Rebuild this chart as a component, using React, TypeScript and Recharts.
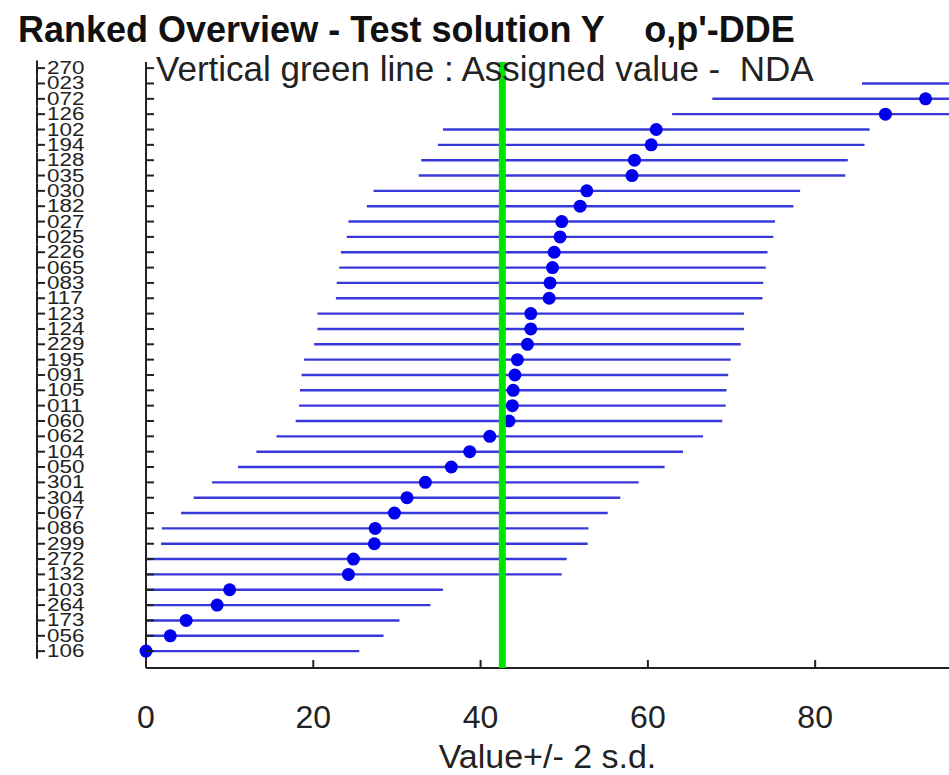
import React from 'react';
import { ScatterChart, Scatter, XAxis, YAxis, ErrorBar, ReferenceLine } from 'recharts';

// participant codes, top to bottom
const labs = [
  '270', '023', '072', '126', '102', '194', '128', '035', '030', '182',
  '027', '025', '226', '065', '083', '117', '123', '124', '229', '195',
  '091', '105', '011', '060', '062', '104', '050', '301', '304', '067',
  '086', '299', '272', '132', '103', '264', '173', '056', '106',
];

// reported values (270 and 023 are off the right edge)
const values = [
  130, 111.1, 93.2, 88.4, 61.0, 60.4, 58.4, 58.1, 52.7, 51.9,
  49.7, 49.5, 48.8, 48.6, 48.3, 48.2, 46.0, 46.0, 45.6, 44.4,
  44.1, 43.9, 43.8, 43.4, 41.1, 38.7, 36.5, 33.4, 31.2, 29.7,
  27.4, 27.3, 24.8, 24.2, 10.0, 8.5, 4.8, 2.9, 0.0,
];

const xTicks = [0, 20, 40, 60, 80];
const TWO_SD = 25.5;
const ASSIGNED = 42.6;
const X_MIN = 0;
const X_MAX = 96;

// error bars are cut at the left edge of the axes, like the original
const rows = labs.map((lab, i) => ({
  lab,
  idx: i + 1,
  value: values[i],
  err: [Math.min(TWO_SD, values[i] - X_MIN), TWO_SD],
}));
// dots that fall inside the axes (drawn unclipped so the one at 0 stays round)
const dots = rows.filter(r => r.value <= X_MAX);
const rowTicks = rows.map(r => r.idx);

const FONT = '"Liberation Sans", Arial, Helvetica, sans-serif';
const INK = '#222';

const LabTick = ({ x, y, payload }: any) => (
  <g>
    <line x1={x - 109} x2={x - 109} y1={y - 7.7} y2={y + 7.7} stroke={INK} strokeWidth={2} />
    <line x1={x - 109} x2={x - 101} y1={y} y2={y} stroke={INK} strokeWidth={2} />
    <line x1={x} x2={x + 8} y1={y} y2={y} stroke={INK} strokeWidth={2} />
    <text
      x={0}
      y={0}
      transform={`translate(${x - 99},${y + 6}) scale(1.12,0.88)`}
      fontSize={20}
      fill={INK}
      fontFamily={FONT}
    >
      {labs[payload.value - 1]}
    </text>
  </g>
);

const ValTick = ({ x, y, payload }: any) => (
  <g>
    <line x1={x} x2={x} y1={y} y2={y - 8} stroke={INK} strokeWidth={2} />
    <text x={x} y={y + 60} textAnchor="middle" fontSize={32} fill={INK} fontFamily={FONT}>
      {payload.value}
    </text>
  </g>
);

const Dot = (p: any) => <circle cx={p.cx} cy={p.cy} r={6.5} fill="#0000ee" />;
const NoDot = () => <g />;

export default function App() {
  return (
    <div style={{ position: 'absolute', left: 0, top: 0, width: 949, height: 775, background: '#fff', fontFamily: FONT }}>
      <ScatterChart width={949} height={775} margin={{ top: 62, right: 0, bottom: 0, left: 0 }}>
        <XAxis
          xAxisId="clip"
          type="number"
          dataKey="value"
          domain={[X_MIN, X_MAX]}
          allowDataOverflow
          ticks={xTicks}
          tickSize={0}
          tickMargin={0}
          tickLine={false}
          tick={<ValTick />}
          height={107}
          axisLine={{ stroke: INK, strokeWidth: 2 }}
          label={{ value: 'Value+/- 2 s.d.', position: 'insideBottom', offset: 7, fontSize: 34, fill: INK, fontFamily: FONT }}
        />
        <XAxis xAxisId="free" type="number" dataKey="value" domain={[X_MIN, X_MAX]} hide />
        <YAxis
          type="number"
          dataKey="idx"
          domain={[0.6, 40.1]}
          reversed
          ticks={rowTicks}
          interval={0}
          tickSize={0}
          tickMargin={0}
          tickLine={false}
          tick={<LabTick />}
          width={146}
          axisLine={{ stroke: INK, strokeWidth: 2 }}
        />
        <Scatter xAxisId="clip" data={rows} shape={<NoDot />} isAnimationActive={false}>
          <ErrorBar dataKey="err" direction="x" width={0} stroke="#3838d8" strokeWidth={2.4} />
        </Scatter>
        <Scatter xAxisId="free" data={dots} shape={<Dot />} isAnimationActive={false} />
        <ReferenceLine xAxisId="clip" x={ASSIGNED} stroke="#00e400" strokeWidth={7} zIndex={1000} />
      </ScatterChart>
      <div style={{ position: 'absolute', left: 18, top: 12, fontSize: 36, fontWeight: 'bold', lineHeight: 1, whiteSpace: 'pre', color: '#111' }}>
        {"Ranked Overview - Test solution Y    o,p'-DDE"}
      </div>
      <div style={{ position: 'absolute', left: 156, top: 51, fontSize: 35, lineHeight: 1, whiteSpace: 'pre', color: INK }}>
        {'Vertical green line : Assigned value -  NDA'}
      </div>
    </div>
  );
}
